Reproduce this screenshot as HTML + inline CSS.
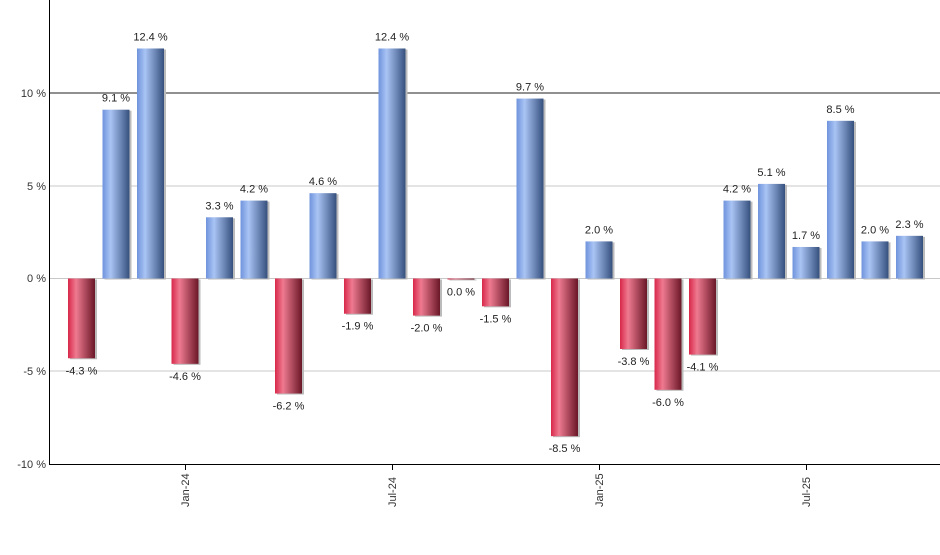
<!DOCTYPE html><html><head><style>body{margin:0;background:#fff}</style></head><body>
<svg width="940" height="550" xmlns="http://www.w3.org/2000/svg" font-family="Liberation Sans, sans-serif" font-size="11">
<defs>
<linearGradient id="b" x1="0" x2="1"><stop offset="0" stop-color="#6f93dc"/><stop offset="0.3" stop-color="#a9c4f4"/><stop offset="1" stop-color="#36507e"/></linearGradient>
<linearGradient id="r" x1="0" x2="1"><stop offset="0" stop-color="#d8284a"/><stop offset="0.3" stop-color="#ee7a90"/><stop offset="1" stop-color="#6a1727"/></linearGradient>
</defs>
<g stroke="#c8c8c8"><line x1="50" x2="940" y1="186" y2="186"/><line x1="50" x2="940" y1="278.5" y2="278.5"/><line x1="50" x2="940" y1="371" y2="371"/></g>
<line x1="50" x2="940" y1="93" y2="93" stroke="#222"/>
<line x1="49.5" x2="49.5" y1="0" y2="465" stroke="#000"/>
<line x1="49" x2="940" y1="464.5" y2="464.5" stroke="#000"/>
<g fill="#333" text-anchor="end"><text x="46" y="97">10 %</text><text x="46" y="190">5 %</text><text x="46" y="282">0 %</text><text x="46" y="375">-5 %</text><text x="46" y="468">-10 %</text></g>
<g id="bars"></g>
<g fill="#333" font-size="11">
<text transform="translate(189,507) rotate(-90)">Jan-24</text>
<text transform="translate(396,507) rotate(-90)">Jul-24</text>
<text transform="translate(603,507) rotate(-90)">Jan-25</text>
<text transform="translate(810,507) rotate(-90)">Jul-25</text>
</g>
<g stroke="#000"><line x1="185.5" x2="185.5" y1="465" y2="470"/><line x1="392.5" x2="392.5" y1="465" y2="470"/><line x1="599.5" x2="599.5" y1="465" y2="470"/><line x1="806.5" x2="806.5" y1="465" y2="470"/></g>
</svg>
<script>
var v=[-4.3,9.1,12.4,-4.6,3.3,4.2,-6.2,4.6,-1.9,12.4,-2.0,-0.05,-1.5,9.7,-8.5,2.0,-3.8,-6.0,-4.1,4.2,5.1,1.7,8.5,2.0,2.3];
var g=document.getElementById('bars'),s='',z=278.5,k=18.55;
v.forEach(function(d,i){var c=81.5+i*34.5,x=c-13.5,h=Math.abs(d)*k,y=d>=0?z-h:z;
s+='<rect x="'+(x+2)+'" y="'+(y+1)+'" width="27" height="'+h+'" fill="#bbb"/>';
s+='<rect x="'+x+'" y="'+y+'" width="27" height="'+Math.max(h,1)+'" fill="url(#'+(d>=0?'b':'r')+')"/>';
var t=(d<0&&d>-0.1?'0.0':d.toFixed(1))+' %';var ty=d>=0?y-8:y+h+16;
s+='<text x="'+c+'" y="'+ty+'" text-anchor="middle" fill="#222">'+t+'</text>';});
g.innerHTML=s;
</script>
</body></html>
